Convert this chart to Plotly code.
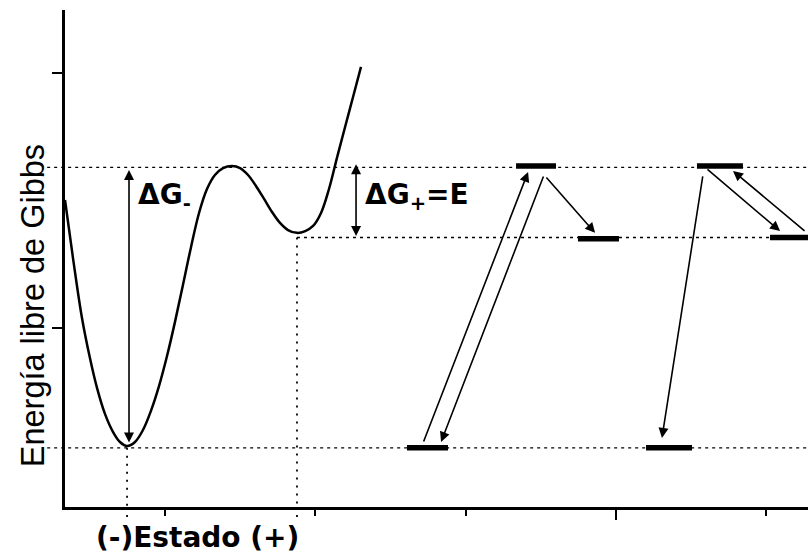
import plotly.graph_objects as go

# Gibbs free-energy profile along the state coordinate
curve_x = [0.334, 0.387, 0.447, 0.500, 0.547, 0.600, 0.654, 0.700, 0.747,
           0.800, 0.853, 0.906, 0.960, 1.013, 1.066, 1.119, 1.173, 1.226, 1.279,
           1.332, 1.386, 1.446,
           1.499, 1.552, 1.605, 1.659, 1.712, 1.765, 1.818, 1.878,
           1.933, 1.985, 2.038, 2.091, 2.144, 2.198, 2.251, 2.304]
curve_y = [1.502, 1.275, 1.039, 0.882, 0.765, 0.663, 0.592, 0.553, 0.537,
           0.553, 0.600, 0.675, 0.773, 0.890, 1.024, 1.169, 1.318, 1.451, 1.545,
           1.600, 1.627, 1.635,
           1.627, 1.600, 1.557, 1.506, 1.455, 1.412, 1.384, 1.373,
           1.380, 1.400, 1.451, 1.545, 1.667, 1.788, 1.906, 2.024]

# reference energies and state positions
level_low = 0.53
level_top = 1.63
level_plus = 1.355
state_minus = 0.747
state_plus = 1.878

# energy-level bars of the two schemes
bar_x0 = [2.610, 3.336, 3.748, 4.201, 4.540, 5.026]
bar_x1 = [2.883, 3.602, 4.021, 4.507, 4.846, 5.300]
bar_y = [0.530, 1.635, 1.350, 0.530, 1.635, 1.355]

# transitions between levels (tail -> head)
arrow_x0 = [2.717, 3.522, 3.529, 4.580, 4.600, 5.266]
arrow_y0 = [0.549, 1.600, 1.596, 1.600, 1.627, 1.376]
arrow_x1 = [3.416, 2.837, 3.862, 4.307, 5.093, 4.780]
arrow_y1 = [1.612, 0.553, 1.373, 0.569, 1.380, 1.616]

# barrier heights
dg_minus_x = 0.760
dg_plus_x = 2.271

x_range = [0.334, 5.279]
y_range = [0.298, 2.247]
y_ticks = [1, 2]

fig = go.Figure()

fig.add_trace(go.Scatter(
    x=curve_x, y=curve_y, mode="lines",
    line=dict(color="black", width=2.5, shape="spline", smoothing=1.0),
    hoverinfo="skip", showlegend=False))

bx, by = [], []
for a, b, y in zip(bar_x0, bar_x1, bar_y):
    bx += [a, b, None]
    by += [y, y, None]
fig.add_trace(go.Scatter(
    x=bx, y=by, mode="lines", line=dict(color="black", width=5.5),
    hoverinfo="skip", showlegend=False))

dots = "3px,4px"
shapes = []
# horizontal guide lines
for lv in (level_top, level_low):
    shapes.append(dict(type="line", xref="paper", yref="y", x0=-0.024, x1=1,
                       y0=lv, y1=lv, line=dict(color="black", width=1.4, dash=dots)))
shapes.append(dict(type="line", xref="x", yref="y", x0=state_plus, x1=x_range[1],
                   y0=level_plus, y1=level_plus,
                   line=dict(color="black", width=1.4, dash=dots)))
# vertical guide lines down to the state axis
for sx, lv in ((state_minus, level_low), (state_plus, level_plus)):
    shapes.append(dict(type="line", xref="x", yref="y", x0=sx, x1=sx,
                       y0=lv, y1=y_range[0],
                       line=dict(color="black", width=1.8, dash="2px,6px")))
    shapes.append(dict(type="line", xref="x", yref="paper", x0=sx, x1=sx,
                       y0=0, y1=-0.022,
                       line=dict(color="black", width=1.8, dash="2px,6px")))

annotations = []
arrow_style = dict(showarrow=True, arrowhead=2, arrowsize=1.25, arrowwidth=1.6,
                   arrowcolor="black", text="", axref="x", ayref="y",
                   xref="x", yref="y", standoff=0, startstandoff=0)
for x0, y0, x1, y1 in zip(arrow_x0, arrow_y0, arrow_x1, arrow_y1):
    annotations.append(dict(x=x1, y=y1, ax=x0, ay=y0, **arrow_style))

annotations.append(dict(x=dg_minus_x, y=level_top - 0.01, ax=dg_minus_x, ay=level_low + 0.015,
                        arrowside="end+start", startarrowhead=2, startarrowsize=1.25,
                        **arrow_style))
annotations.append(dict(x=dg_plus_x, y=level_top + 0.012, ax=dg_plus_x, ay=level_plus,
                        arrowside="end+start", startarrowhead=2, startarrowsize=1.25,
                        **arrow_style))

label_font = dict(family="DejaVu Sans", size=28, color="black")
annotations.append(dict(x=0.807, y=1.514, xref="x", yref="y", xanchor="left",
                        yanchor="middle", showarrow=False,
                        text="<b>ΔG<sub>-</sub></b>", font=label_font))
annotations.append(dict(x=2.318, y=1.514, xref="x", yref="y", xanchor="left",
                        yanchor="middle", showarrow=False,
                        text="<b>ΔG<sub>+</sub>=E</b>", font=label_font))

# axis titles
annotations.append(dict(x=-0.043, y=0.404, xref="paper", yref="paper",
                        xanchor="center", yanchor="middle",
                        showarrow=False, textangle=-90,
                        text="Energía libre de Gibbs",
                        font=dict(family="Liberation Sans", size=32.5, color="black")))
annotations.append(dict(x=0.178, y=-0.062, xref="paper", yref="paper",
                        xanchor="center", yanchor="middle",
                        showarrow=False, text="<b>(-)Estado (+)</b>",
                        font=dict(family="DejaVu Sans", size=28, color="black")))

fig.update_layout(
    width=808, height=555,
    margin=dict(l=65, r=0, t=10, b=48),
    paper_bgcolor="white", plot_bgcolor="white",
    shapes=shapes, annotations=annotations,
    xaxis=dict(range=x_range, showgrid=False, zeroline=False,
               showline=True, linecolor="black", linewidth=2.5,
               tickmode="linear", tick0=4, dtick=5, ticks="outside",
               ticklen=10, tickwidth=2, tickcolor="black", showticklabels=False,
               minor=dict(tickmode="linear", tick0=4, dtick=1, ticks="outside",
                          ticklen=6, tickwidth=2, tickcolor="black")),
    yaxis=dict(range=y_range, showgrid=False, zeroline=False,
               showline=True, linecolor="black", linewidth=2.5,
               tickmode="array", tickvals=y_ticks, ticks="outside",
               ticklen=10, tickwidth=2, tickcolor="black", showticklabels=False),
)

fig.write_html("out.html")
